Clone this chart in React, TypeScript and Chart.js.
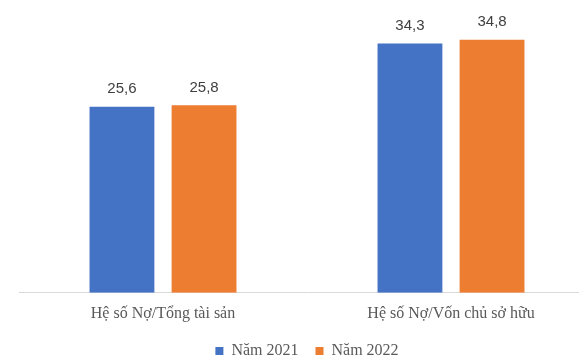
import React, { useEffect, useRef } from "react";
import { Chart, registerables } from "chart.js";

Chart.register(...registerables);

const categories = ["Hệ số Nợ/Tổng tài sản", "Hệ số Nợ/Vốn chủ sở hữu"];
const seriesNames = ["Năm 2021", "Năm 2022"];
const values2021 = [25.6, 34.3];
const values2022 = [25.8, 34.8];
const colors = ["#4472C4", "#ED7D31"];

const valueLabels = {
  id: "valueLabels",
  afterDatasetsDraw(chart: any) {
    const ctx = chart.ctx;
    ctx.save();
    ctx.font = "15px 'Liberation Sans', Arial, sans-serif";
    ctx.fillStyle = "#404040";
    ctx.textAlign = "center";
    ctx.textBaseline = "middle";
    chart.data.datasets.forEach((ds: any, di: number) => {
      const meta = chart.getDatasetMeta(di);
      meta.data.forEach((el: any, i: number) => {
        const v = ds.data[i] as number;
        ctx.fillText(v.toFixed(1).replace(".", ","), el.x, el.y - 17.5);
      });
    });
    ctx.restore();
  },
};

export default function App() {
  const ref = useRef<HTMLCanvasElement>(null);
  useEffect(() => {
    if (!ref.current) return;
    const chart = new Chart(ref.current, {
      type: "bar",
      data: {
        labels: categories,
        datasets: [
          { label: seriesNames[0], data: values2021, backgroundColor: colors[0] },
          { label: seriesNames[1], data: values2022, backgroundColor: colors[1] },
        ],
      },
      options: {
        animation: false,
        responsive: false,
        maintainAspectRatio: false,
        layout: { padding: { left: 19, right: 5, top: 2, bottom: -13 } },
        datasets: {
          bar: { barPercentage: 0.79, categoryPercentage: 0.57 },
        } as any,
        scales: {
          x: {
            grid: { display: false },
            border: { display: true, color: "#D9D9D9", width: 1 },
            ticks: {
              color: "#595959",
              font: { family: "'Liberation Serif', 'Times New Roman', serif", size: 16 },
              padding: 3,
              maxRotation: 0,
            },
          },
          y: { display: false, min: 0, max: 40 },
        },
        plugins: {
          legend: {
            position: "bottom",
            fullSize: false,
            labels: {
              boxWidth: 8,
              boxHeight: 8,
              color: "#595959",
              font: { family: "'Liberation Serif', 'Times New Roman', serif", size: 16 },
              padding: 17,
            },
          },
          tooltip: { enabled: false },
        },
      },
      plugins: [valueLabels],
    });
    return () => chart.destroy();
  }, []);
  return (
    <div
      style={{
        position: "fixed",
        left: 0,
        top: 0,
        width: 579,
        height: 356,
        overflow: "hidden",
        background: "#fff",
      }}
    >
      <canvas
        ref={ref}
        width={600}
        height={356}
        style={{ position: "absolute", left: 0, top: 0, width: 600, height: 356 }}
      />
    </div>
  );
}
